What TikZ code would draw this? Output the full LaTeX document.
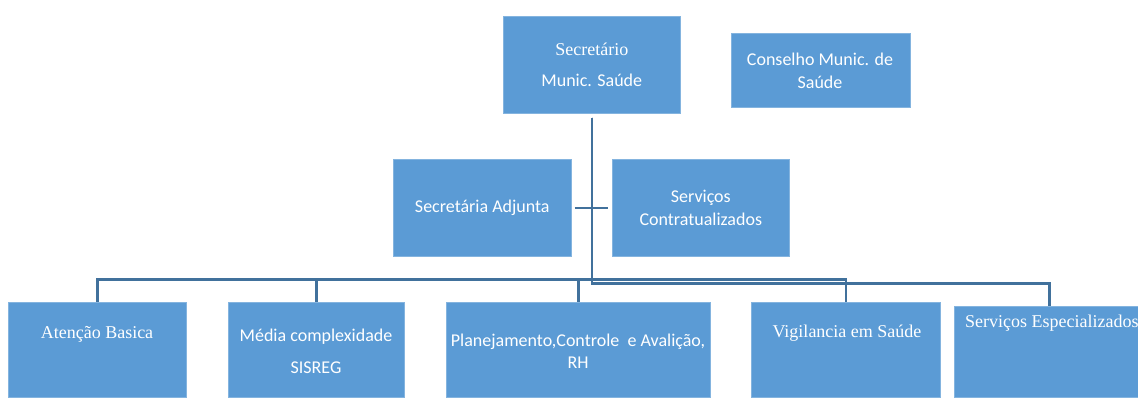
\documentclass[tikz,border=0pt]{standalone}
\usepackage{fontspec}
\setmainfont{Liberation Serif}
\newfontfamily\calfont{Carlito}
\definecolor{boxblue}{HTML}{5B9BD5}
\definecolor{linkblue}{HTML}{41719C}
\begin{document}
\begin{tikzpicture}[x=1pt,y=-1pt,
  box/.style={fill=boxblue, draw=boxblue!75!white, line width=0.6pt, inner sep=0pt, anchor=north west},
  lbl/.style={text=white, align=center, inner sep=0pt},
  link/.style={draw=linkblue, line width=2.5pt}]
\useasboundingbox (0,0) rectangle (1138,397);
\clip (0,0) rectangle (1138,397);
% boxes
\node[box, minimum width=177pt, minimum height=97pt] (sec) at (503,16) {};
\node[box, minimum width=179pt, minimum height=74pt] (cms) at (731,33) {};
\node[box, minimum width=178pt, minimum height=97pt] (sa) at (393,159) {};
\node[box, minimum width=177pt, minimum height=97pt] (sc) at (612,159) {};
\node[box, minimum width=178pt, minimum height=95pt] (ab) at (8,302) {};
\node[box, minimum width=176pt, minimum height=95pt] (mc) at (228,302) {};
\node[box, minimum width=264pt, minimum height=95pt] (pl) at (446,302) {};
\node[box, minimum width=189pt, minimum height=95pt] (vs) at (751,302) {};
\node[box, minimum width=190pt, minimum height=91pt] (se) at (954,306) {};
% texts
\node[lbl, font=\fontsize{18}{31}\selectfont] (tsec) at (sec.center) {Secretário\\{\calfont Munic. Saúde}};
\node[lbl, font=\calfont\fontsize{18}{23}\selectfont] (tcms) at (820,71) {Conselho Munic. de\\Saúde};
\node[lbl, font=\calfont\fontsize{18}{23}\selectfont] (tsa) at (sa.center) {Secretária Adjunta};
\node[lbl, font=\calfont\fontsize{18}{23}\selectfont] (tsc) at (sc.center) {Serviços\\Contratualizados};
\node[lbl, font=\fontsize{18}{23}\selectfont] (tab) at (97,334) {Atenção Basica};
\node[lbl, font=\calfont\fontsize{18}{32}\selectfont] (tmc) at (316,351) {Média complexidade\\SISREG};
\node[lbl, font=\calfont\fontsize{18}{22}\selectfont] (tpl) at (578,351) {Planejamento,Controle\ \ e Avalição,\\RH};
\node[lbl, font=\fontsize{18}{23}\selectfont] (tvs) at (847,333) {Vigilancia em Saúde};
\node[lbl, font=\fontsize{18}{23}\selectfont, anchor=west] (tse) at (965,323) {Serviços Especializados};
% connectors
\draw[link, shorten <=4pt] (sec.south) -- ++(0,166) -| (ab.north);
\draw[link, shorten <=4pt] (sec.south) -- ++(0,166) -| (mc.north);
\draw[link, shorten <=4pt] (sec.south) -- ++(0,166) -| (pl.north);
\draw[link, shorten <=4pt] (sec.south) -- ++(0,166) -| (vs.north);
\draw[link, shorten <=4pt] (sec.south) -- ++(0,170) -| (se.north);
\draw[link, shorten <=3pt, shorten >=4pt] (sa.east) -- (sc.west);
\end{tikzpicture}
\end{document}
